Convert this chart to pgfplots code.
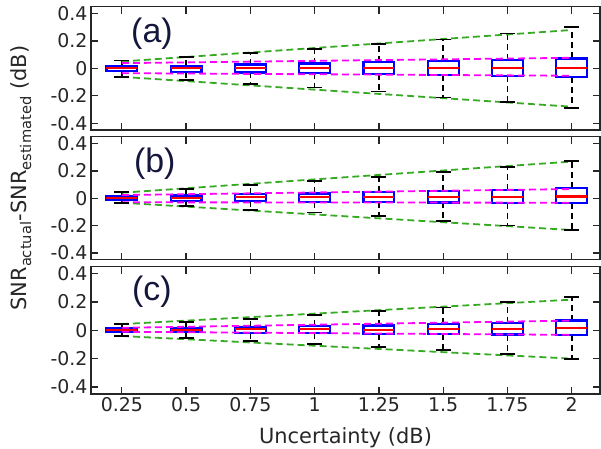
\documentclass[border=0pt]{standalone}
\usepackage{fontspec}
\setmainfont{DejaVu Sans}
\newfontfamily\labfont{Liberation Sans}
\usepackage{pgfplots}
\usepgfplotslibrary{statistics}
\pgfplotsset{compat=1.18}
\definecolor{mgreen}{RGB}{55,170,35}
\definecolor{mmag}{RGB}{255,0,255}
\definecolor{lblue}{RGB}{20,22,60}
\definecolor{axgray}{RGB}{38,38,38}

\tikzset{plabel/.style={font=\labfont\fontsize{34}{38}\selectfont, text=lblue}}

\pgfplotsset{
  panel/.style={
    scale only axis,
    width=509bp,
    xmin=0.13, xmax=2.11,
    ymin=-0.45, ymax=0.45,
    xtick={0.25,0.5,0.75,1,1.25,1.5,1.75,2},
    ytick={-0.4,-0.2,0,0.2,0.4},
    yticklabels={-0.4,-0.2,0,0.2,0.4},
    tick align=inside,
    major tick length=7bp,
    axis line style={line width=1.3bp, axgray},
    every tick/.style={line width=1.3bp, axgray},
    tick label style={font=\fontsize{19}{22}\selectfont, text=axgray},
    label style={font=\fontsize{21}{24}\selectfont, text=axgray},
    /pgf/number format/assume math mode=true,
    boxplot/draw direction=y,
    boxplot/box extend=0.12,
    boxplot/whisker extend=0,
    boxplot/every whisker/.style={black, line width=1.6bp, dash pattern=on 6bp off 4bp},
    boxplot/every box/.style={draw=blue, line width=2.2bp},
    boxplot/every median/.style={red, line width=2.2bp},
    clip=false,
  },
  caps/.style={black, only marks, mark=-, mark size=7.5bp, mark options={line width=1.8bp, solid}},
  gline/.style={mgreen, line width=1.8bp, dash pattern=on 7bp off 4bp},
  mline/.style={mmag, line width=1.8bp, dash pattern=on 7bp off 4bp},
}

\begin{document}
\begin{tikzpicture}
\path[use as bounding box] (-91bp,6.7bp) rectangle (510bp,-442.3bp);

% ---------------- panel (a)
\begin{axis}[panel, at={(0,0)}, anchor=north west, height=123.3bp, xticklabels={}]
\addplot[black, boxplot prepared={draw position=0.25, lower whisker=-0.062, lower quartile=-0.018, median=0.000, upper quartile=0.013, upper whisker=0.057}] coordinates {};
\addplot[black, boxplot prepared={draw position=0.5, lower whisker=-0.086, lower quartile=-0.025, median=0.000, upper quartile=0.019, upper whisker=0.084}] coordinates {};
\addplot[black, boxplot prepared={draw position=0.75, lower whisker=-0.113, lower quartile=-0.030, median=0.000, upper quartile=0.028, upper whisker=0.110}] coordinates {};
\addplot[black, boxplot prepared={draw position=1, lower whisker=-0.140, lower quartile=-0.033, median=0.003, upper quartile=0.035, upper whisker=0.140}] coordinates {};
\addplot[black, boxplot prepared={draw position=1.25, lower whisker=-0.169, lower quartile=-0.040, median=0.003, upper quartile=0.045, upper whisker=0.179}] coordinates {};
\addplot[black, boxplot prepared={draw position=1.5, lower whisker=-0.213, lower quartile=-0.047, median=0.003, upper quartile=0.052, upper whisker=0.210}] coordinates {};
\addplot[black, boxplot prepared={draw position=1.75, lower whisker=-0.247, lower quartile=-0.054, median=0.003, upper quartile=0.060, upper whisker=0.254}] coordinates {};
\addplot[black, boxplot prepared={draw position=2, lower whisker=-0.288, lower quartile=-0.062, median=0.004, upper quartile=0.072, upper whisker=0.303}] coordinates {};
\addplot[caps] coordinates {(0.25,-0.062) (0.25,0.057) (0.5,-0.086) (0.5,0.084) (0.75,-0.113) (0.75,0.110) (1,-0.140) (1,0.140) (1.25,-0.169) (1.25,0.179) (1.5,-0.213) (1.5,0.210) (1.75,-0.247) (1.75,0.254) (2,-0.288) (2,0.303)};
\addplot[gline] coordinates {(0.25,0.050) (2,0.280)};
\addplot[gline] coordinates {(0.25,-0.062) (2,-0.280)};
\addplot[mline] coordinates {(0.25,0.038) (2,0.077)};
\addplot[mline] coordinates {(0.25,-0.035) (2,-0.054)};
\node[plabel] at (axis cs:0.367,0.25) {(a)};
\end{axis}

% ---------------- panel (b)
\begin{axis}[panel, at={(0,-130bp)}, anchor=north west, height=123bp, xticklabels={}]
\addplot[black, boxplot prepared={draw position=0.25, lower whisker=-0.038, lower quartile=-0.016, median=0.002, upper quartile=0.016, upper whisker=0.043}] coordinates {};
\addplot[black, boxplot prepared={draw position=0.5, lower whisker=-0.057, lower quartile=-0.018, median=0.003, upper quartile=0.020, upper whisker=0.065}] coordinates {};
\addplot[black, boxplot prepared={draw position=0.75, lower whisker=-0.084, lower quartile=-0.018, median=0.006, upper quartile=0.031, upper whisker=0.097}] coordinates {};
\addplot[black, boxplot prepared={draw position=1, lower whisker=-0.104, lower quartile=-0.026, median=0.006, upper quartile=0.035, upper whisker=0.123}] coordinates {};
\addplot[black, boxplot prepared={draw position=1.25, lower whisker=-0.131, lower quartile=-0.028, median=0.006, upper quartile=0.045, upper whisker=0.153}] coordinates {};
\addplot[black, boxplot prepared={draw position=1.5, lower whisker=-0.165, lower quartile=-0.031, median=0.008, upper quartile=0.053, upper whisker=0.192}] coordinates {};
\addplot[black, boxplot prepared={draw position=1.75, lower whisker=-0.200, lower quartile=-0.038, median=0.010, upper quartile=0.060, upper whisker=0.231}] coordinates {};
\addplot[black, boxplot prepared={draw position=2, lower whisker=-0.233, lower quartile=-0.038, median=0.013, upper quartile=0.075, upper whisker=0.273}] coordinates {};
\addplot[caps] coordinates {(0.25,-0.038) (0.25,0.043) (0.5,-0.057) (0.5,0.065) (0.75,-0.084) (0.75,0.097) (1,-0.104) (1,0.123) (1.25,-0.131) (1.25,0.153) (1.5,-0.165) (1.5,0.192) (1.75,-0.200) (1.75,0.231) (2,-0.233) (2,0.273)};
\addplot[gline] coordinates {(0.25,0.040) (2,0.268)};
\addplot[gline] coordinates {(0.25,-0.033) (2,-0.233)};
\addplot[mline] coordinates {(0.25,0.023) (2,0.067)};
\addplot[mline] coordinates {(0.25,-0.030) (2,-0.033)};
\node[plabel] at (axis cs:0.378,0.25) {(b)};
\end{axis}

% ---------------- panel (c)
\begin{axis}[panel, at={(0,-260bp)}, anchor=north west, height=127.3bp,
  xticklabels={0.25,0.5,0.75,1,1.25,1.5,1.75,2},
  xlabel={Uncertainty (dB)}, xlabel style={yshift=-9bp}]
\addplot[black, boxplot prepared={draw position=0.25, lower whisker=-0.041, lower quartile=-0.009, median=0.005, upper quartile=0.017, upper whisker=0.046}] coordinates {};
\addplot[black, boxplot prepared={draw position=0.5, lower whisker=-0.055, lower quartile=-0.011, median=0.005, upper quartile=0.019, upper whisker=0.060}] coordinates {};
\addplot[black, boxplot prepared={draw position=0.75, lower whisker=-0.073, lower quartile=-0.018, median=0.007, upper quartile=0.025, upper whisker=0.083}] coordinates {};
\addplot[black, boxplot prepared={draw position=1, lower whisker=-0.094, lower quartile=-0.020, median=0.007, upper quartile=0.030, upper whisker=0.106}] coordinates {};
\addplot[black, boxplot prepared={draw position=1.25, lower whisker=-0.115, lower quartile=-0.025, median=0.005, upper quartile=0.034, upper whisker=0.134}] coordinates {};
\addplot[black, boxplot prepared={draw position=1.5, lower whisker=-0.138, lower quartile=-0.028, median=0.007, upper quartile=0.044, upper whisker=0.161}] coordinates {};
\addplot[black, boxplot prepared={draw position=1.75, lower whisker=-0.168, lower quartile=-0.030, median=0.009, upper quartile=0.053, upper whisker=0.198}] coordinates {};
\addplot[black, boxplot prepared={draw position=2, lower whisker=-0.200, lower quartile=-0.032, median=0.014, upper quartile=0.069, upper whisker=0.237}] coordinates {};
\addplot[caps] coordinates {(0.25,-0.041) (0.25,0.046) (0.5,-0.055) (0.5,0.060) (0.75,-0.073) (0.75,0.083) (1,-0.094) (1,0.106) (1.25,-0.115) (1.25,0.134) (1.5,-0.138) (1.5,0.161) (1.75,-0.168) (1.75,0.198) (2,-0.200) (2,0.237)};
\addplot[gline] coordinates {(0.25,0.044) (2,0.217)};
\addplot[gline] coordinates {(0.25,-0.040) (2,-0.200)};
\addplot[mline] coordinates {(0.25,0.018) (2,0.069)};
\addplot[mline] coordinates {(0.25,-0.010) (2,-0.032)};
\node[plabel] at (axis cs:0.367,0.27) {(c)};
\end{axis}

\node[rotate=90, anchor=base, font=\fontsize{21}{24}\selectfont, text=axgray]
  at (-64bp,-171.3bp) {SNR\textsubscript{actual}-SNR\textsubscript{estimated} (dB)};
\end{tikzpicture}
\end{document}
